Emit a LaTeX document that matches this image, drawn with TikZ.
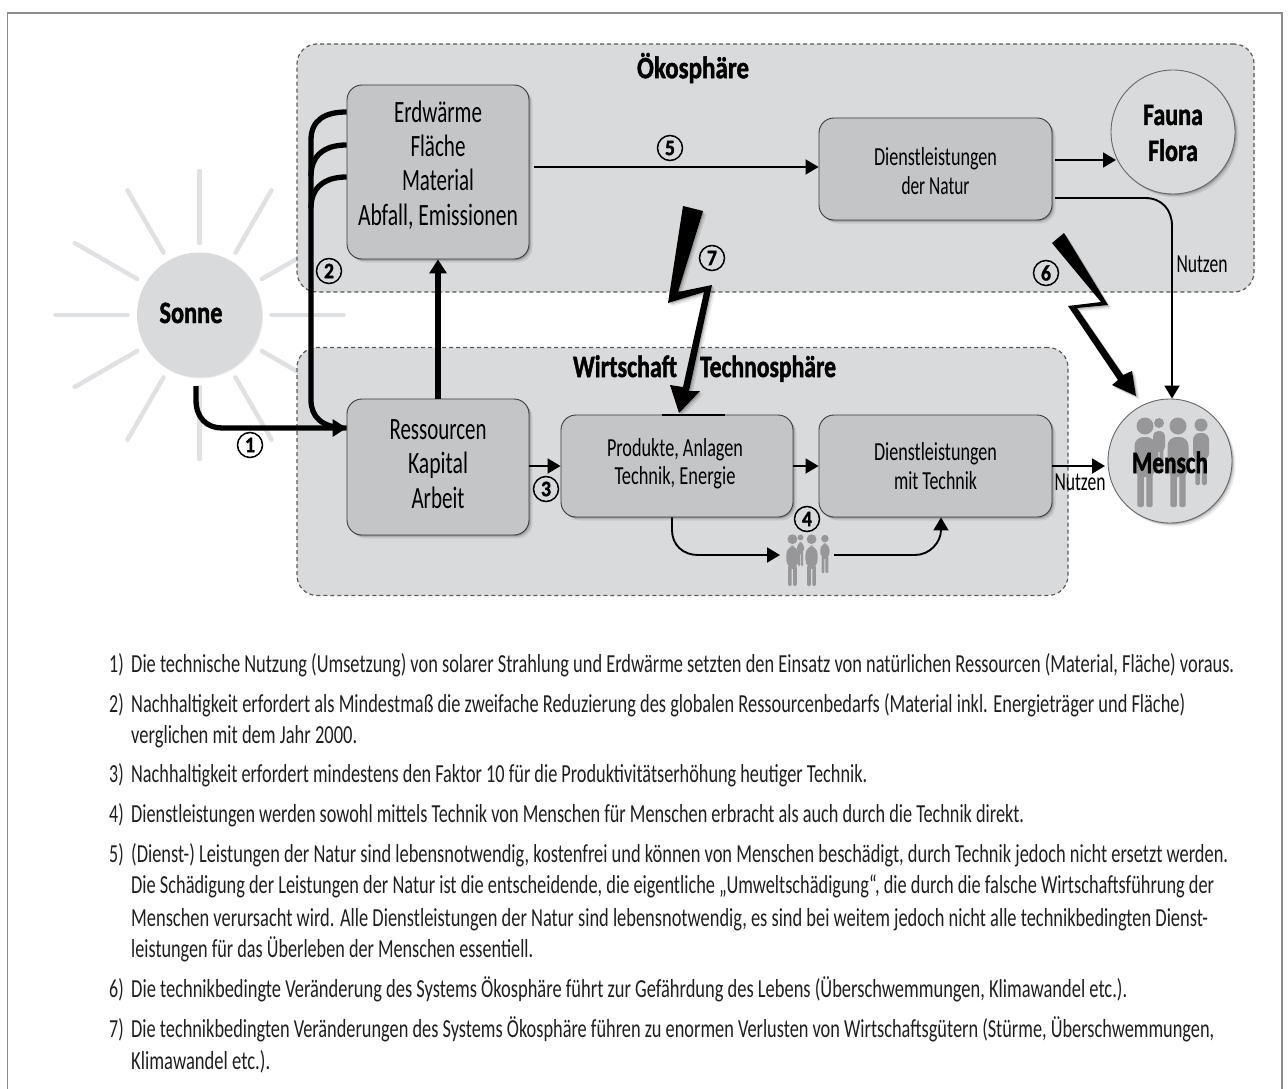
\documentclass[tikz,border=0pt]{standalone}
\usepackage{fontspec}
\usepackage{graphicx}
\setmainfont{Carlito}[BoldFeatures={FakeBold=1.6}]
\usetikzlibrary{arrows.meta,shadows,calc}
\definecolor{zone}{HTML}{D9DADC}
\definecolor{boxf}{HTML}{C4C5C7}
\definecolor{ray}{HTML}{E0E1E3}
\definecolor{folk}{HTML}{97979A}
\definecolor{edge}{HTML}{3A3A3A}
\newcommand\fitw[2]{\resizebox{#1pt}{\height}{#2}}
\newcommand\personfig[7]{% cx heady headr halfw top hip foot
  \fill (#1,#2) circle[radius=#3];
  \fill[rounded corners=#4*0.85pt] ({#1-#4},#5) rectangle ({#1+#4},#6);
  \fill[rounded corners=1.5pt] ({#1-#4*0.72},{#6-6}) rectangle ({#1-#4*0.12},#7);
  \fill[rounded corners=1.5pt] ({#1+#4*0.12},{#6-6}) rectangle ({#1+#4*0.72},#7);
}
\newcommand\peoplegroup[2]{%
  \begin{scope}[shift={(#1)},scale=#2,fill=folk]
    \personfig{-12}{-38}{5}{6}{-30}{-9}{12}
    \personfig{-26}{-35}{8.5}{10.5}{-24}{16}{46}
    \personfig{7}{-35}{8.5}{10.5}{-24}{16}{46}
    \personfig{30}{-36}{6.5}{8}{-28}{-1}{24}
  \end{scope}%
}
\tikzset{
  softshadow/.style={
    drop shadow={shadow xshift=1pt,shadow yshift=-1pt,opacity=.14,fill=black},
    drop shadow={shadow xshift=2pt,shadow yshift=-2pt,opacity=.12,fill=black},
    drop shadow={shadow xshift=3.5pt,shadow yshift=-3.5pt,opacity=.08,fill=black}},
  zonebox/.style={rectangle,rounded corners=20pt,fill=zone,draw=black!65,line width=1.2pt,
    dash pattern=on 4pt off 3pt,inner sep=0pt},
  blockbox/.style={rectangle,rounded corners=15pt,fill=boxf,draw=edge,line width=.9pt,inner sep=0pt,softshadow},
  roundbox/.style={circle,fill=zone,draw=black!60,line width=.9pt,inner sep=0pt,minimum size=124pt,softshadow},
  sunbody/.style={circle,fill=zone,inner sep=0pt,minimum size=125pt,
    drop shadow={shadow xshift=1pt,shadow yshift=-1pt,opacity=.08,fill=black}},
  sunray/.style={draw=ray,line width=4.5pt,line cap=round},
  bigtext/.style={font=\fontsize{31}{34.3}\selectfont,align=center,inner sep=0pt},
  smalltext/.style={font=\fontsize{26}{28.3}\selectfont,align=center,inner sep=0pt},
  headtext/.style={font=\bfseries\fontsize{31}{36}\selectfont,align=center,inner sep=0pt},
  numtag/.style={circle,draw=black,line width=1.5pt,inner sep=0pt,minimum size=25pt,font=\bfseries\fontsize{22}{22}\selectfont},
  thinarrow/.style={draw=black,line width=1.9pt,-{Triangle[length=13pt,width=15pt]}},
  thinline/.style={draw=black,line width=1.9pt},
  thickarrow/.style={draw=black,line width=5.3pt,-{Triangle[length=14pt,width=17pt]}},
  thickline/.style={draw=black,line width=5.3pt},
  notetext/.style={anchor=base west,inner sep=0pt,text=black!88,font=\fontsize{26}{26}\selectfont},
  bolt/.style={fill=black,softshadow},
}
\begin{document}
\begin{tikzpicture}[x=1pt,y=-1pt]
\useasboundingbox (0,0) rectangle (1288,1089);
% frame
\draw[black!45,line width=1.6pt] (7.5,1089) -- (7.5,13) -- (1282,13) -- (1282,1089);
% sun rays
\coordinate (suncentre) at (199.5,315);
\foreach \a in {0,30,...,330}{
  \draw[sunray] ($(suncentre)+(\a:72)$) -- ($(suncentre)+(\a:144)$);
}
% zones
\node[zonebox,minimum width=957pt,minimum height=248pt] (oeko) at (775.5,168) {};
\node[zonebox,minimum width=771pt,minimum height=248pt] (wirt) at (682.5,471.5) {};
\node[sunbody] (sonne) at (suncentre) {};
% blocks
\node[blockbox,minimum width=182pt,minimum height=174pt] (erd) at (438,172) {};
\node[blockbox,minimum width=182pt,minimum height=136pt] (res) at (438,467) {};
\node[blockbox,minimum width=232pt,minimum height=102pt] (prod) at (677,466) {};
\node[blockbox,minimum width=233pt,minimum height=102pt] (dtech) at (935.5,466) {};
\node[blockbox,minimum width=233pt,minimum height=102pt] (dnat) at (935.5,169) {};
\node[roundbox] (fauna) at (1173,132) {};
\node[roundbox] (mensch) at (1170,461) {};
% people
\peoplegroup{1171,461}{1}
\peoplegroup{807.5,559.5}{.58}
% connection points
\coordinate (e1) at (erd.west |- 0,112);
\coordinate (e2) at (erd.west |- 0,145);
\coordinate (e3) at (erd.west |- 0,177);
\coordinate (r1) at (res.west |- 0,428);
\coordinate (s1) at (196,386);
\coordinate (f5) at (534,167);
\coordinate (t5) at (dnat.west |- 0,167);
\coordinate (fn1) at (1055,160);
\coordinate (tn1) at (1116,160);
\coordinate (fn2) at (1055,198);
\coordinate (tn2) at (mensch.north -| 1172,0);
\coordinate (r3) at (res.east |- 0,466);
\coordinate (p3) at (prod.west |- 0,466);
\coordinate (pe) at (prod.east |- 0,466);
\coordinate (de) at (dtech.west |- 0,466);
\coordinate (dn) at (dtech.east |- 0,466);
\coordinate (mn) at (1105,466);
\coordinate (pb) at (prod.south -| 672,0);
\coordinate (g1) at (780,555);
\coordinate (g2) at (834,555);
\coordinate (db) at (dtech.south -| 941,0);
\coordinate (ru) at (res.north);
\coordinate (eb) at (erd.south);
% thick connectors
\draw[thickline] (e1) .. controls (325,112) and (311,120) .. (311,140) -- (311,400)
  .. controls (311,416) and (321,428) .. (r1);
\draw[thickline] (e2) .. controls (325,145) and (311,155) .. (311,176);
\draw[thickline] (e3) .. controls (325,177) and (311,187) .. (311,208);
\draw[thickarrow] (s1) -- (196,400) .. controls (196,418) and (207,428) .. (222,428) -- (r1);
\draw[thickarrow] (ru) -- (eb);
% thin connectors
\draw[thinarrow] (f5) -- (t5);
\draw[thinarrow] (fn1) -- (tn1);
\draw[thinarrow] (fn2) -- (1145,198) .. controls (1162,198) and (1172,210) .. (1172,226) -- (tn2);
\draw[thinarrow] (r3) -- (p3);
\draw[thinarrow] (pe) -- (de);
\draw[thinarrow] (dn) -- (mn);
\draw[thinarrow] (pb) -- (672,530) .. controls (672,545) and (683,555) .. (698,555) -- (g1);
\draw[thinarrow] (g2) -- (915,555) .. controls (930,555) and (941,542) .. (db);
% bolts
\fill[bolt] (683,206) -- (703,211) -- (678,292) -- (712,285) -- (689,391) -- (700,391) -- (679,413)
  -- (670,385) -- (683,387) -- (704,292) -- (668,303) -- cycle;
\draw[black,line width=2pt] (662,415) -- (725,415);
\fill[bolt] (1052,243) -- (1101,302) -- (1068,306) -- (1118,380) -- (1112,385) -- (1136,396)
  -- (1132,371) -- (1123,375) -- (1077,308) -- (1108,305) -- (1064,233) -- cycle;
% texts in the picture
\node[headtext] (toeko) at (693,68) {\fitw{112}{Ökosphäre}};
\node[headtext,anchor=base] (twirt) at (625,377) {\fitw{104}{Wirtschaft}};
\node[headtext,anchor=base] (ttech) at (768,377) {\fitw{136}{Technosphäre}};
\node[headtext,anchor=base] (tsonne) at (191,323) {\fitw{63}{Sonne}};
\node[headtext] (tfauna) at (1173,133) {\fitw{60}{Fauna}\\\fitw{50}{Flora}};
\node[headtext,anchor=base] (tmensch) at (1170,473) {\fitw{76}{Mensch}};
\node[bigtext] (terd) at (438,165) {\fitw{88}{Erdwärme}\\\fitw{55}{Fläche}\\\fitw{72}{Material}\\\fitw{160}{Abfall, Emissionen}};
\node[bigtext] (tres) at (438,464) {\fitw{97}{Ressourcen}\\\fitw{60}{Kapital}\\\fitw{53}{Arbeit}};
\node[smalltext] (tnat) at (935.5,171) {\fitw{123}{Dienstleistungen}\\\fitw{68}{der Natur}};
\node[smalltext] (tprod) at (675,464) {\fitw{136}{Produkte, Anlagen}\\\fitw{121}{Technik, Energie}};
\node[smalltext] (ttec) at (935.5,466) {\fitw{123}{Dienstleistungen}\\\fitw{83}{mit Technik}};
\node[smalltext,anchor=base] (tn1lab) at (1080,490) {\fitw{51}{Nutzen}};
\node[smalltext,anchor=base] (tn2lab) at (1202,272) {\fitw{51}{Nutzen}};
% numbers
\node[numtag] (n1) at (250,445) {\fitw{10}{1}};
\node[numtag] (n2) at (329,271) {\fitw{10}{2}};
\node[numtag] (n3) at (546,489) {\fitw{10}{3}};
\node[numtag] (n4) at (807,519) {\fitw{10}{4}};
\node[numtag] (n5) at (670,148) {\fitw{10}{5}};
\node[numtag] (n6) at (1046,273) {\fitw{10}{6}};
\node[numtag] (n7) at (712,258) {\fitw{10}{7}};
% notes
\node[notetext] (l1n) at (109,672) {\fitw{14.5}{1)}};
\node[notetext] (l1) at (131,672) {\fitw{1103}{Die technische Nutzung (Umsetzung) von solarer Strahlung und Erdwärme setzten den Einsatz von natürlichen Ressourcen (Material, Fläche) voraus.}};
\node[notetext] (l2n) at (109,712) {\fitw{14.5}{2)}};
\node[notetext] (l2) at (131,712) {\fitw{1054}{Nachhaltigkeit erfordert als Mindestmaß die zweifache Reduzierung des globalen Ressourcenbedarfs (Material inkl. Energieträger und Fläche)}};
\node[notetext] (l2b) at (131,743) {\fitw{226}{verglichen mit dem Jahr 2000.}};
\node[notetext] (l3n) at (109,782) {\fitw{14.5}{3)}};
\node[notetext] (l3) at (131,782) {\fitw{736}{Nachhaltigkeit erfordert mindestens den Faktor 10 für die Produktivitätserhöhung heutiger Technik.}};
\node[notetext] (l4n) at (109,822) {\fitw{14.5}{4)}};
\node[notetext] (l4) at (131,822) {\fitw{893}{Dienstleistungen werden sowohl mittels Technik von Menschen für Menschen erbracht als auch durch die Technik direkt.}};
\node[notetext] (l5n) at (109,862) {\fitw{14.5}{5)}};
\node[notetext] (l5) at (131,862) {\fitw{1097}{(Dienst-) Leistungen der Natur sind lebensnotwendig, kostenfrei und können von Menschen beschädigt, durch Technik jedoch nicht ersetzt werden.}};
\node[notetext] (l5b) at (131,893) {\fitw{1083}{Die Schädigung der Leistungen der Natur ist die entscheidende, die eigentliche „Umweltschädigung“, die durch die falsche Wirtschaftsführung der}};
\node[notetext] (l5c) at (131,926) {\fitw{1077}{Menschen verursacht wird. Alle Dienstleistungen der Natur sind lebensnotwendig, es sind bei weitem jedoch nicht alle technikbedingten Dienst-}};
\node[notetext] (l5d) at (131,957) {\fitw{402}{leistungen für das Überleben der Menschen essentiell.}};
\node[notetext] (l6n) at (109,997) {\fitw{14.5}{6)}};
\node[notetext] (l6) at (131,997) {\fitw{996}{Die technikbedingte Veränderung des Systems Ökosphäre führt zur Gefährdung des Lebens (Überschwemmungen, Klimawandel etc.).}};
\node[notetext] (l7n) at (109,1037) {\fitw{14.5}{7)}};
\node[notetext] (l7) at (131,1037) {\fitw{1083}{Die technikbedingten Veränderungen des Systems Ökosphäre führen zu enormen Verlusten von Wirtschaftsgütern (Stürme, Überschwemmungen,}};
\node[notetext] (l7b) at (131,1069) {\fitw{139}{Klimawandel etc.).}};
\end{tikzpicture}
\end{document}
